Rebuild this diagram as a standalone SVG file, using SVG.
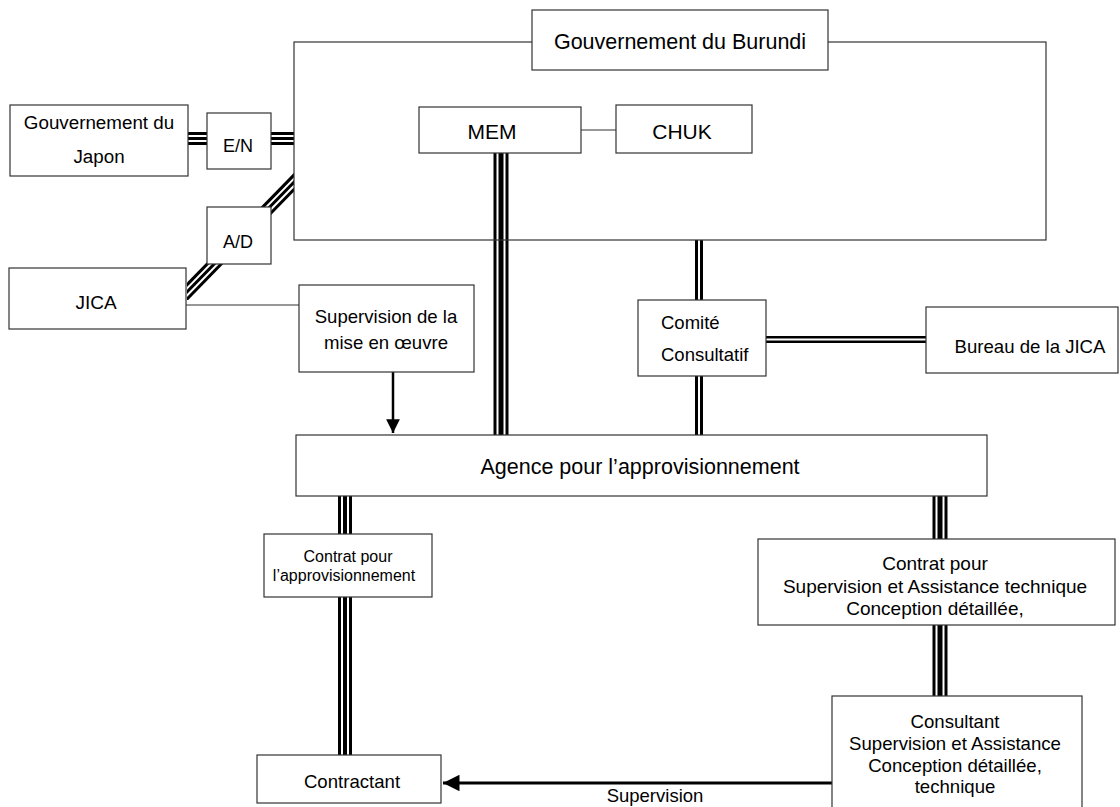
<svg xmlns="http://www.w3.org/2000/svg" width="1120" height="807" viewBox="0 0 1120 807">
<defs>
<style>
.box{fill:#fff;stroke:#333;stroke-width:1.2}
.t{font-family:"Liberation Sans",Arial,sans-serif;fill:#000;text-anchor:middle}
.thin{stroke:#333;stroke-width:1.2;fill:none}
.tb{stroke:#000;stroke-width:15;fill:none}
.tw{stroke:#fff;stroke-width:9;fill:none}
.tc{stroke:#000;stroke-width:5;fill:none}
.db{stroke:#000;stroke-width:8;fill:none}
.dw{stroke:#fff;stroke-width:2;fill:none}
.arr{stroke:#000;stroke-width:2.5;fill:none}
</style>
<clipPath id="diagClip"><rect x="187" y="150" width="107" height="150"/></clipPath>
<marker id="ah" viewBox="0 0 10 10" refX="10" refY="5" markerWidth="5.5" markerHeight="5.5" orient="auto" markerUnits="strokeWidth">
<path d="M0,0 L10,5 L0,10 z" fill="#000"/>
</marker>
</defs>

<g id="connectors">
<g>
<path class="tb" d="M188,138.5 H207 M271,138.5 H294" style="stroke-width:13"/>
<path class="tw" d="M188,138.5 H207 M271,138.5 H294" style="stroke-width:7"/>
<path class="tc" d="M188,138.5 H207 M271,138.5 H294" style="stroke-width:3"/>
</g>
<g clip-path="url(#diagClip)">
<path class="tb" d="M300,176 L183,296" style="stroke-width:13"/>
<path class="tw" d="M300,176 L183,296" style="stroke-width:7"/>
<path class="tc" d="M300,176 L183,296" style="stroke-width:3"/>
</g>
<path class="tb" d="M501,153 V435"/>
<path class="tw" d="M501,153 V435"/>
<path class="tc" d="M501,153 V435"/>
<path class="thin" d="M581,130 H616"/>
<path class="thin" d="M186,305 H299"/>
<path class="db" d="M699,240 V300 M699,376 V435"/>
<path class="dw" d="M699,240 V300 M699,376 V435"/>
<path class="db" d="M766,339.5 H926" style="stroke-width:7"/>
<path class="dw" d="M766,339.5 H926"/>
<path class="arr" d="M393,372 V433" marker-end="url(#ah)"/>
<path class="tb" d="M345,496 V534 M345,597 V755" style="stroke-width:14"/>
<path class="tw" d="M345,496 V534 M345,597 V755" style="stroke-width:8"/>
<path class="tc" d="M345,496 V534 M345,597 V755" style="stroke-width:4"/>
<path class="tb" d="M940,496 V539 M940,625 V696"/>
<path class="tw" d="M940,496 V539 M940,625 V696"/>
<path class="tc" d="M940,496 V539 M940,625 V696"/>
<path class="arr" d="M832,783 H443" style="stroke-width:3" marker-end="url(#ah)"/>
<text class="t" x="655" y="802" font-size="18.5">Supervision</text>
</g>

<g id="gov-burundi">
<rect class="box" x="294" y="42" width="752" height="198" style="fill:none"/>
<rect class="box" x="532" y="10" width="296" height="60"/>
<text class="t" x="680" y="49" font-size="21.5">Gouvernement du Burundi</text>
</g>

<g id="gov-japon">
<rect class="box" x="10" y="105" width="178" height="71"/>
<text class="t" x="99" y="129" font-size="18.8">Gouvernement du</text>
<text class="t" x="99" y="163" font-size="18.8">Japon</text>
</g>

<g id="en">
<rect class="box" x="207" y="113" width="64" height="56"/>
<text class="t" x="238" y="152" font-size="18">E/N</text>
</g>

<g id="ad">
<rect class="box" x="207" y="207" width="64" height="57"/>
<text class="t" x="238" y="248" font-size="18">A/D</text>
</g>

<g id="jica">
<rect class="box" x="9" y="268" width="177" height="61"/>
<text class="t" x="96" y="309" font-size="19">JICA</text>
</g>

<g id="mem">
<rect class="box" x="419" y="107" width="162" height="46"/>
<text class="t" x="492" y="139" font-size="21">MEM</text>
</g>

<g id="chuk">
<rect class="box" x="616" y="105" width="136" height="48"/>
<text class="t" x="682" y="139" font-size="21">CHUK</text>
</g>

<g id="supervision-mise">
<rect class="box" x="299" y="285" width="175" height="87"/>
<text class="t" x="386" y="323" font-size="18.6">Supervision de la</text>
<text class="t" x="386" y="349" font-size="18.6">mise en œuvre</text>
</g>

<g id="comite">
<rect class="box" x="638" y="300" width="128" height="76"/>
<text class="t" x="661" y="329" font-size="18.5" style="text-anchor:start">Comité</text>
<text class="t" x="661" y="361" font-size="18.5" style="text-anchor:start">Consultatif</text>
</g>

<g id="bureau-jica">
<rect class="box" x="926" y="307" width="192" height="66"/>
<text class="t" x="1030" y="353" font-size="18.6">Bureau de la JICA</text>
</g>

<g id="agence">
<rect class="box" x="296" y="435" width="691" height="61"/>
<text class="t" x="640" y="474" font-size="21.5">Agence pour l’approvisionnement</text>
</g>

<g id="contrat-approv">
<rect class="box" x="264" y="534" width="168" height="63"/>
<text class="t" x="348" y="562" font-size="16">Contrat pour</text>
<text class="t" x="344" y="581" font-size="16">l’approvisionnement</text>
</g>

<g id="contrat-supervision">
<rect class="box" x="758" y="539" width="357" height="86"/>
<text class="t" x="935" y="570" font-size="19">Contrat pour</text>
<text class="t" x="935" y="593" font-size="19">Supervision et Assistance technique</text>
<text class="t" x="935" y="615" font-size="19">Conception détaillée,</text>
</g>

<g id="consultant">
<rect class="box" x="832" y="696" width="250" height="130"/>
<text class="t" x="955" y="728" font-size="18.6">Consultant</text>
<text class="t" x="955" y="750" font-size="18.6">Supervision et Assistance</text>
<text class="t" x="955" y="772" font-size="18.6">Conception détaillée,</text>
<text class="t" x="955" y="793" font-size="18.6">technique</text>
</g>

<g id="contractant">
<rect class="box" x="257" y="755" width="184" height="48"/>
<text class="t" x="352" y="788" font-size="18.6">Contractant</text>
</g>
</svg>
